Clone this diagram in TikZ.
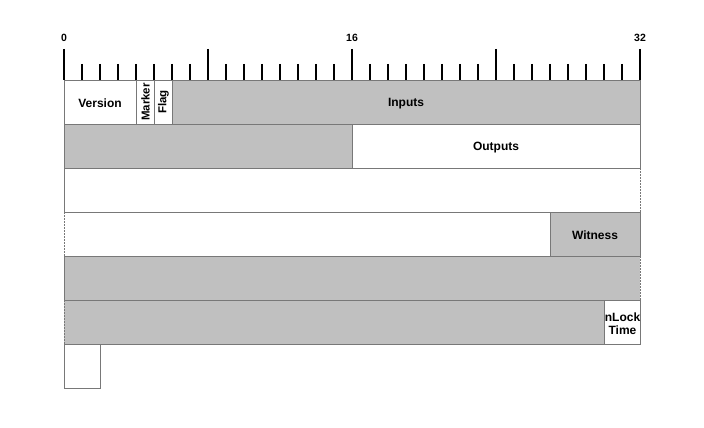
\documentclass[tikz,border=0pt]{standalone}
\usepackage{fontspec}
\setmainfont{Liberation Sans}
\definecolor{fieldgray}{RGB}{192,192,192}
\definecolor{linegray}{RGB}{120,120,120}
\begin{document}
\begin{tikzpicture}[x=1pt,y=-1pt,
  fld/.style={inner sep=0pt, outer sep=0pt, anchor=north west, minimum height=44pt},
  ftext/.style={inner sep=0pt, font=\bfseries\fontsize{12}{13.5}\selectfont, text=black, align=center, yshift=-1.5pt},
  gr/.style={fill=fieldgray},
  wh/.style={fill=white},
  boxed/.style={draw=linegray, line width=1pt},
  edge/.style={draw=linegray, line width=1pt},
  dotedge/.style={draw=linegray, line width=1pt, dash pattern=on 1.5pt off 1.5pt},
  tick/.style={draw=black, line width=1.3pt},
  rot/.style={rotate=90, font=\bfseries\fontsize{11.5}{12.5}\selectfont, inner sep=0pt},
  bitlabel/.style={font=\bfseries\fontsize{10.5}{11}\selectfont, inner sep=0pt}]
\useasboundingbox (0,0) rectangle (704,428);
% ruler
\foreach \i in {0,...,32}{
  \pgfmathtruncatemacro{\r}{mod(\i,8)}
  \ifnum\r=0
    \draw[tick] (64+18*\i,49) -- (64+18*\i,80);
  \else
    \draw[tick] (64+18*\i,64) -- (64+18*\i,80);
  \fi
}
\node[bitlabel] (b0) at (64,37.5) {0};
\node[bitlabel] (b16) at (352,37.5) {16};
\node[bitlabel] (b32) at (640,37.5) {32};
% row 1
\node[fld,wh,boxed,minimum width=72pt] (version) at (64,80) {};
\node[ftext] (versiontxt) at (version.center) {Version};
\node[fld,wh,boxed,minimum width=18pt] (marker) at (136,80) {};
\node[rot] (markertxt) at ([xshift=0.5pt]marker.center) {Marker};
\node[fld,wh,boxed,minimum width=18pt] (flag) at (154,80) {};
\node[rot] (flagtxt) at ([xshift=0.5pt]flag.center) {Flag};
\node[fld,gr,boxed,minimum width=468pt] (inputs) at (172,80) {};
\node[ftext] (inputstxt) at (inputs.center) {Inputs};
% row 2
\node[fld,gr,boxed,minimum width=288pt] (r2a) at (64,124) {};
\node[fld,wh,boxed,minimum width=288pt] (outputs) at (352,124) {};
\node[ftext] (outputstxt) at (outputs.center) {Outputs};
% row 3
\node[fld,wh,minimum width=576pt] (r3) at (64,168) {};
\draw[edge] (r3.north east) -- (r3.north west) -- (r3.south west) -- (r3.south east);
\draw[dotedge] (r3.north east) -- (r3.south east);
% row 4
\node[fld,wh,minimum width=486pt] (r4a) at (64,212) {};
\node[fld,gr,boxed,minimum width=90pt] (witness) at (550,212) {};
\node[ftext] (witnesstxt) at (witness.center) {Witness};
\draw[edge] (r4a.north west) -- (r4a.north east) (r4a.south west) -- (r4a.south east);
\draw[dotedge] (r4a.north west) -- (r4a.south west);
% row 5
\node[fld,gr,minimum width=576pt] (r5) at (64,256) {};
\draw[edge] (r5.north east) -- (r5.north west) -- (r5.south west) -- (r5.south east);
\draw[dotedge] (r5.north east) -- (r5.south east);
% row 6
\node[fld,gr,minimum width=540pt] (r6a) at (64,300) {};
\node[fld,wh,boxed,minimum width=36pt] (nlock) at (604,300) {};
\node[ftext] (nlocktxt) at ([xshift=0.5pt]nlock.center) {nLock\\Time};
\draw[edge] (r6a.north west) -- (r6a.north east) (r6a.south west) -- (r6a.south east);
\draw[dotedge] (r6a.north west) -- (r6a.south west);
% row 7
\node[fld,wh,boxed,minimum width=36pt] (r7) at (64,344) {};
\end{tikzpicture}
\end{document}
